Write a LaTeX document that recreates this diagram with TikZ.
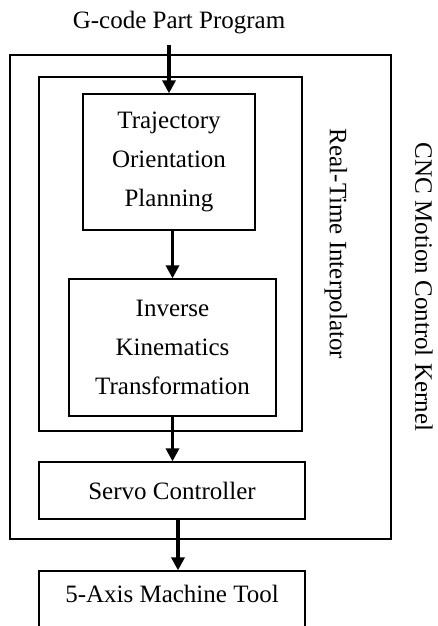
\documentclass[tikz,border=0pt]{standalone}
\usepackage{fontspec}
\setmainfont{Liberation Serif}
\usetikzlibrary{arrows.meta, positioning}

\begin{document}
\begin{tikzpicture}[x=0.5pt, y=-0.5pt,
    font=\fontsize{12.5}{19.3}\selectfont,
    box/.style={draw, line width=0.65pt, inner sep=0pt, align=center},
    flow/.style={line width=1.8pt, -{Triangle[length=6.5pt, width=6.5pt]}}]
    \useasboundingbox (0, 0) rectangle (438, 626);
    % nested frames
    \node[box, minimum width=190.5pt, minimum height=242pt] (kernel) at (200.5, 297) {};
    \node[box, minimum width=131.5pt, minimum height=177pt] (interp) at (170.5, 254) {};
    \node[rotate=-90] (interplabel) at (336, 244) {Real-Time Interpolator};
    \node[rotate=-90] (kernellabel) at (424, 287) {CNC Motion Control Kernel};
    % blocks
    \node[anchor=base] (gcode) at (179, 29) {G-code Part Program};
    \node[box, minimum width=86pt, minimum height=68pt] (traj) at (169, 162) {Trajectory\\Orientation\\Planning};
    \node[box, minimum width=103.5pt, minimum height=68.5pt] (invkin) at (172.5, 347.5) {Inverse\\Kinematics\\Transformation};
    \node[box, minimum width=133pt, minimum height=28.5pt] (servo) at (172, 490.5) {Servo Controller};
    \node[box, minimum width=133pt, minimum height=28.5pt, text depth=6pt] (machine) at (172, 599.5) {5-Axis Machine Tool};
    \coordinate (gcodeout) at (169, 45);
    % arrows
    \draw[flow] (gcodeout) -- (traj.north);
    \draw[flow] (invkin.north |- traj.south) -- (invkin.north);
    \draw[flow] (invkin.south) -- (invkin.south |- servo.north);
    \draw[flow] ([xshift=3pt]servo.south) -- ([xshift=3pt]machine.north);
\end{tikzpicture}
\end{document}
